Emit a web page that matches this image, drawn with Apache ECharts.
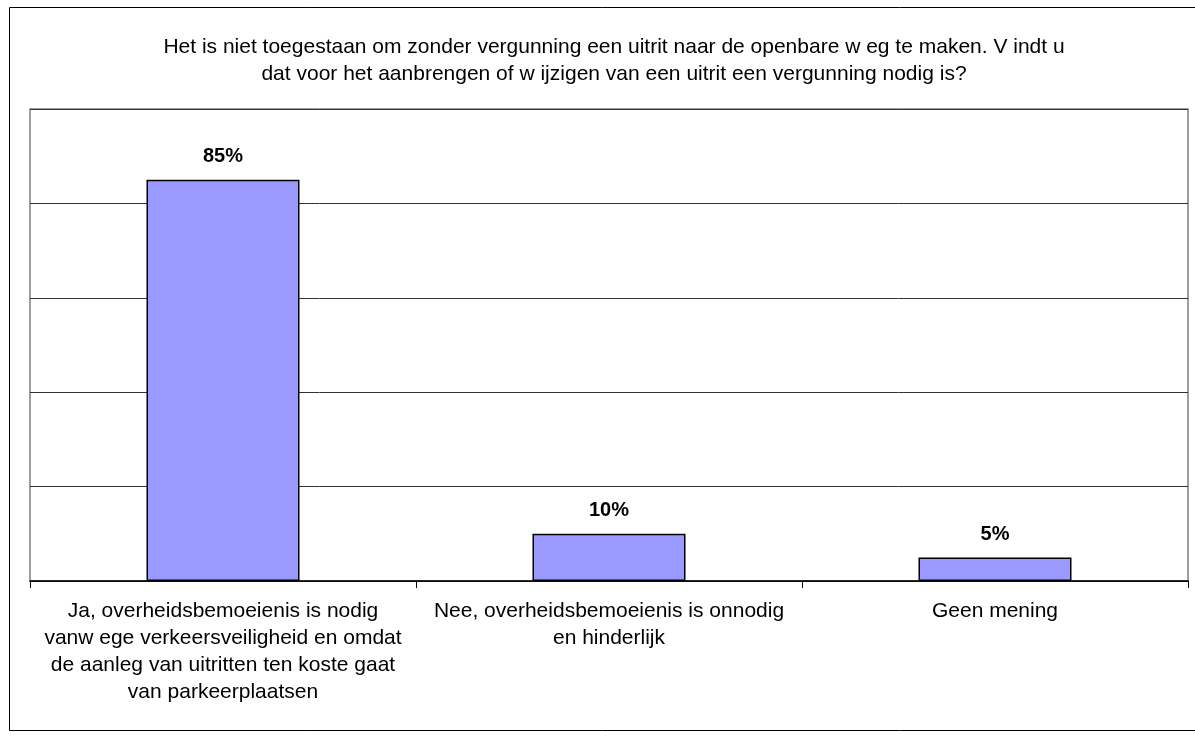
<!DOCTYPE html>
<html>
<head>
<meta charset="utf-8">
<script src="https://cdn.jsdelivr.net/npm/echarts@6/dist/echarts.min.js"></script>
<style>
  html, body { margin: 0; padding: 0; background: #fff; }
  #chart { width: 1195px; height: 740px; }
</style>
</head>
<body>
<div id="chart"></div>
<script>
// vraag en antwoorden
var titleText = 'Het is niet toegestaan om zonder vergunning een uitrit naar de openbare w eg te maken. V indt u\ndat voor het aanbrengen of w ijzigen van een uitrit een vergunning nodig is?';
var categories = [
    'Ja, overheidsbemoeienis is nodig\nvanw ege verkeersveiligheid en omdat\nde aanleg van uitritten ten koste gaat\nvan parkeerplaatsen',
    'Nee, overheidsbemoeienis is onnodig\nen hinderlijk',
    'Geen mening'
];
var percentages = [85, 10, 5];

var chart = echarts.init(document.getElementById('chart'));

chart.setOption({
    backgroundColor: '#fff',
    animation: false,
    textStyle: {
        fontFamily: 'Liberation Sans, Arial, sans-serif'
    },
    title: {
        text: titleText,
        left: 609,
        top: 29,
        textAlign: 'center',
        textStyle: {
            fontSize: 21,
            fontWeight: 'normal',
            color: '#000',
            lineHeight: 27
        }
    },
    //kader rond de hele grafiek
    graphic: [{
        type: 'rect',
        silent: true,
        shape: { x: 9.5, y: 7.5, width: 1200, height: 723 },
        style: { fill: 'none', stroke: '#000', lineWidth: 1 }
    }],
    grid: {
        show: true,
        left: 30,
        right: 7,
        top: 109,
        bottom: 159,
        borderColor: '#808080',
        borderWidth: 1.5,
        backgroundColor: '#fff'
    },
    xAxis: {
        type: 'category',
        data: categories,
        axisLine: {
            lineStyle: { color: '#000', width: 1.5 }
        },
        axisTick: {
            show: true,
            length: 7,
            lineStyle: { color: '#000', width: 1 }
        },
        axisLabel: {
            interval: 0,
            margin: 17,
            fontSize: 21,
            lineHeight: 27,
            color: '#000'
        }
    },
    yAxis: {
        type: 'value',
        min: 0,
        max: 100,
        interval: 20,
        axisLine: { show: false },
        axisTick: { show: false },
        axisLabel: { show: false },
        splitLine: {
            lineStyle: { color: '#333', width: 1 }
        }
    },
    series: [{
        type: 'bar',
        data: percentages,
        barWidth: 153,
        itemStyle: {
            color: '#9999FF',
            borderColor: '#000',
            borderWidth: 1.5
        },
        label: {
            show: true,
            position: 'top',
            distance: 13,
            formatter: '{c}%',
            fontSize: 20,
            fontWeight: 'bold',
            color: '#000'
        }
    }]
});
</script>
</body>
</html>
